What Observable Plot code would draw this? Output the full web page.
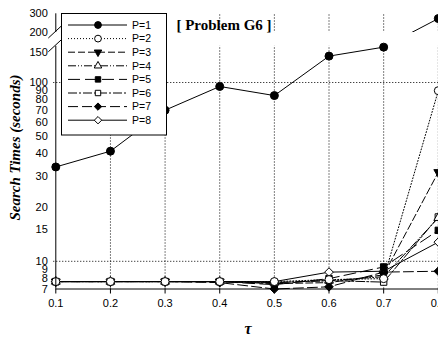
<!DOCTYPE html>
<html><head><meta charset="utf-8">
<script src="https://cdn.jsdelivr.net/npm/d3@7"></script>
<script src="https://cdn.jsdelivr.net/npm/@observablehq/plot@0.6"></script>
<style>
body{margin:0;background:#fff}
#wrap{position:relative;width:438px;height:337px;overflow:hidden;background:#fff}
</style></head><body><div id="wrap"></div>
<script>
// ---- data ----
const tau = [0.1, 0.2, 0.3, 0.4, 0.5, 0.6, 0.7, 0.8];
const seriesNames = ["P=1", "P=2", "P=3", "P=4", "P=5", "P=6", "P=7", "P=8"];
const p1 = [33.7, 41.3, 70, 95, 84.5, 142, 161, 270];
const p2 = [7.7, 7.7, 7.7, 7.7, 7.7, 7.9, 8.0, 90];
const p3 = [7.7, 7.7, 7.7, 7.7, 7.5, 7.6, 8.4, 31.5];
const p4 = [7.7, 7.7, 7.7, 7.7, 7.6, 7.8, 8.2, 17.5];
const p5 = [7.7, 7.7, 7.7, 7.7, 7.4, 8.0, 9.3, 14.9];
const p6 = [7.7, 7.7, 7.7, 7.7, 7.6, 7.8, 7.65, 17.7];
const p7 = [7.7, 7.7, 7.7, 7.6, 7.0, 7.2, 8.7, 8.8];
const p8 = [7.7, 7.7, 7.7, 7.7, 7.7, 8.7, 8.8, 12.8];
const yTicks = [7, 8, 9, 10, 15, 20, 30, 40, 50, 60, 70, 80, 90, 100, 150, 200, 300];
const xTicks = [0.1, 0.2, 0.3, 0.4, 0.5, 0.6, 0.7, 0.8];
const gridY = [10, 100];
const breakRange = [163, 199];
const titleText = "[ Problem G6 ]";
const yLabel = "Search Times (seconds)";
const xLabel = "τ";

// ---- styles ----
const triDown = {draw(ctx, size) {
  const y = -Math.sqrt(size / (Math.sqrt(3) * 3));
  ctx.moveTo(0, -2 * y); ctx.lineTo(-Math.sqrt(3) * y, y); ctx.lineTo(Math.sqrt(3) * y, y); ctx.closePath();
}};
const symbols = [d3.symbolCircle, d3.symbolCircle, triDown, d3.symbolTriangle, d3.symbolSquare, d3.symbolSquare, d3.symbolDiamond2, d3.symbolDiamond2];
const filled = [true, false, true, false, true, false, true, false];
const radii = [4, 4, 3.3, 3.3, 3.6, 3.6, 3.9, 3.9];
const dashes = ["none", "1,2", "7,3", "8,2,1,2,1,2", "12,5", "9,2,2,2", "10,4", "none"];

const values = [p1, p2, p3, p4, p5, p6, p7, p8];
const series = seriesNames.map((name, i) => tau.map((t, j) => ({series: name, tau: t, time: values[i][j]})));

const marks = [];
// grid
marks.push(Plot.ruleX(xTicks.slice(1), {y1: 7, y2: 300, stroke: "#000", strokeDasharray: "1,2", strokeWidth: 1}));
marks.push(Plot.ruleY(gridY, {x1: 0.0963, x2: 0.86, stroke: "#000", strokeDasharray: "1,2", strokeWidth: 1}));
// lines
series.forEach((d, i) => {
  marks.push(Plot.line(d, {x: "tau", y: "time", stroke: "#000", strokeWidth: 1, strokeDasharray: dashes[i] === "none" ? undefined : dashes[i]}));
});
// axis break gap
marks.push(Plot.rect([breakRange], {x1: 0.1, x2: 0.86, y1: d => d[0], y2: d => d[1], fill: "#fff"}));
// dots (P=2 last so it sits on top)
[0, 7, 6, 5, 4, 3, 2, 1].forEach(i => {
  marks.push(Plot.dot(series[i], {x: "tau", y: "time", symbol: symbols[i], r: radii[i],
    fill: filled[i] ? "#000" : "#fff", stroke: "#000", strokeWidth: 1}));
});
// axes
marks.push(Plot.ruleX([0.1], {y1: 7, y2: breakRange[0], stroke: "#000"}));
marks.push(Plot.ruleX([0.1], {y1: breakRange[1], y2: 300, stroke: "#000"}));
marks.push(Plot.ruleY([7], {x1: 0.1, x2: 0.86, stroke: "#000"}));
marks.push(Plot.axisX({ticks: xTicks, tickSize: 5, tickPadding: 5, tickFormat: d => d.toFixed(1), label: null}));
marks.push(Plot.text(yTicks, {x: 0.1, y: d => d, text: d => String(d), dx: -8, textAnchor: "end", fill: "#000", fontSize: 11}));

const chart = Plot.plot({
  width: 438, height: 337,
  marginLeft: 55, marginRight: 0, marginTop: 13, marginBottom: 48.5,
  style: {fontFamily: "'Liberation Sans', Arial, sans-serif", fontSize: "11px", color: "#000", background: "#fff"},
  x: {domain: [0.1, 0.8], range: [55.3, 437.8], label: null},
  y: {type: "log", domain: [7, 100, 150, 200, 300], range: [288.5, 82, 51.5, 31.7, 13.3], label: null, axis: null},
  marks
});
document.getElementById("wrap").appendChild(chart);

// ---- decorations: break slashes, labels, legend ----
const svg = d3.select(chart);
const xs = chart.scale("x"), ys = chart.scale("y");
const ax = xs.apply(0.1);
breakRange.forEach(v => {
  const yy = ys.apply(v);
  svg.append("line").attr("x1", ax - 7).attr("y1", yy + 6).attr("x2", ax + 6).attr("y2", yy - 6)
    .attr("stroke", "#000").attr("stroke-width", 1);
});
svg.append("text").attr("x", 224).attr("y", 29.5).attr("text-anchor", "middle")
  .attr("font-family", "'Liberation Serif', 'Times New Roman', serif").attr("font-weight", "bold").attr("font-size", 15)
  .attr("fill", "#000").text(titleText);
svg.append("text").attr("transform", "translate(20,147.5) rotate(-90)").attr("text-anchor", "middle")
  .attr("font-family", "'Liberation Serif', 'Times New Roman', serif").attr("font-weight", "bold").attr("font-style", "italic")
  .attr("font-size", 15).attr("fill", "#000").text(yLabel);
svg.append("text").attr("x", 248).attr("y", 334).attr("text-anchor", "middle")
  .attr("font-family", "'Liberation Serif', 'Times New Roman', serif").attr("font-weight", "bold").attr("font-style", "italic")
  .attr("font-size", 16).attr("fill", "#000").text(xLabel);

const lg = svg.append("g");
lg.append("rect").attr("x", 61.5).attr("y", 13.5).attr("width", 105).attr("height", 121.5)
  .attr("fill", "#fff").attr("stroke", "#000").attr("stroke-width", 1);
seriesNames.forEach((name, i) => {
  const cy = 25 + i * 13.6;
  lg.append("line").attr("x1", 68).attr("x2", 127).attr("y1", cy).attr("y2", cy)
    .attr("stroke", "#000").attr("stroke-width", 1)
    .attr("stroke-dasharray", dashes[i] === "none" ? null : dashes[i]);
  const rr = radii[i] * 0.85;
  lg.append("path").attr("transform", `translate(98,${cy})`)
    .attr("d", d3.symbol(symbols[i], Math.PI * rr * rr)())
    .attr("fill", filled[i] ? "#000" : "#fff").attr("stroke", "#000").attr("stroke-width", 1);
  lg.append("text").attr("x", 141.5).attr("y", cy).attr("dy", "0.36em")
    .attr("font-family", "'Liberation Sans', Arial, sans-serif").attr("font-size", 10.5).attr("fill", "#000").text(name);
});
</script></body></html>
